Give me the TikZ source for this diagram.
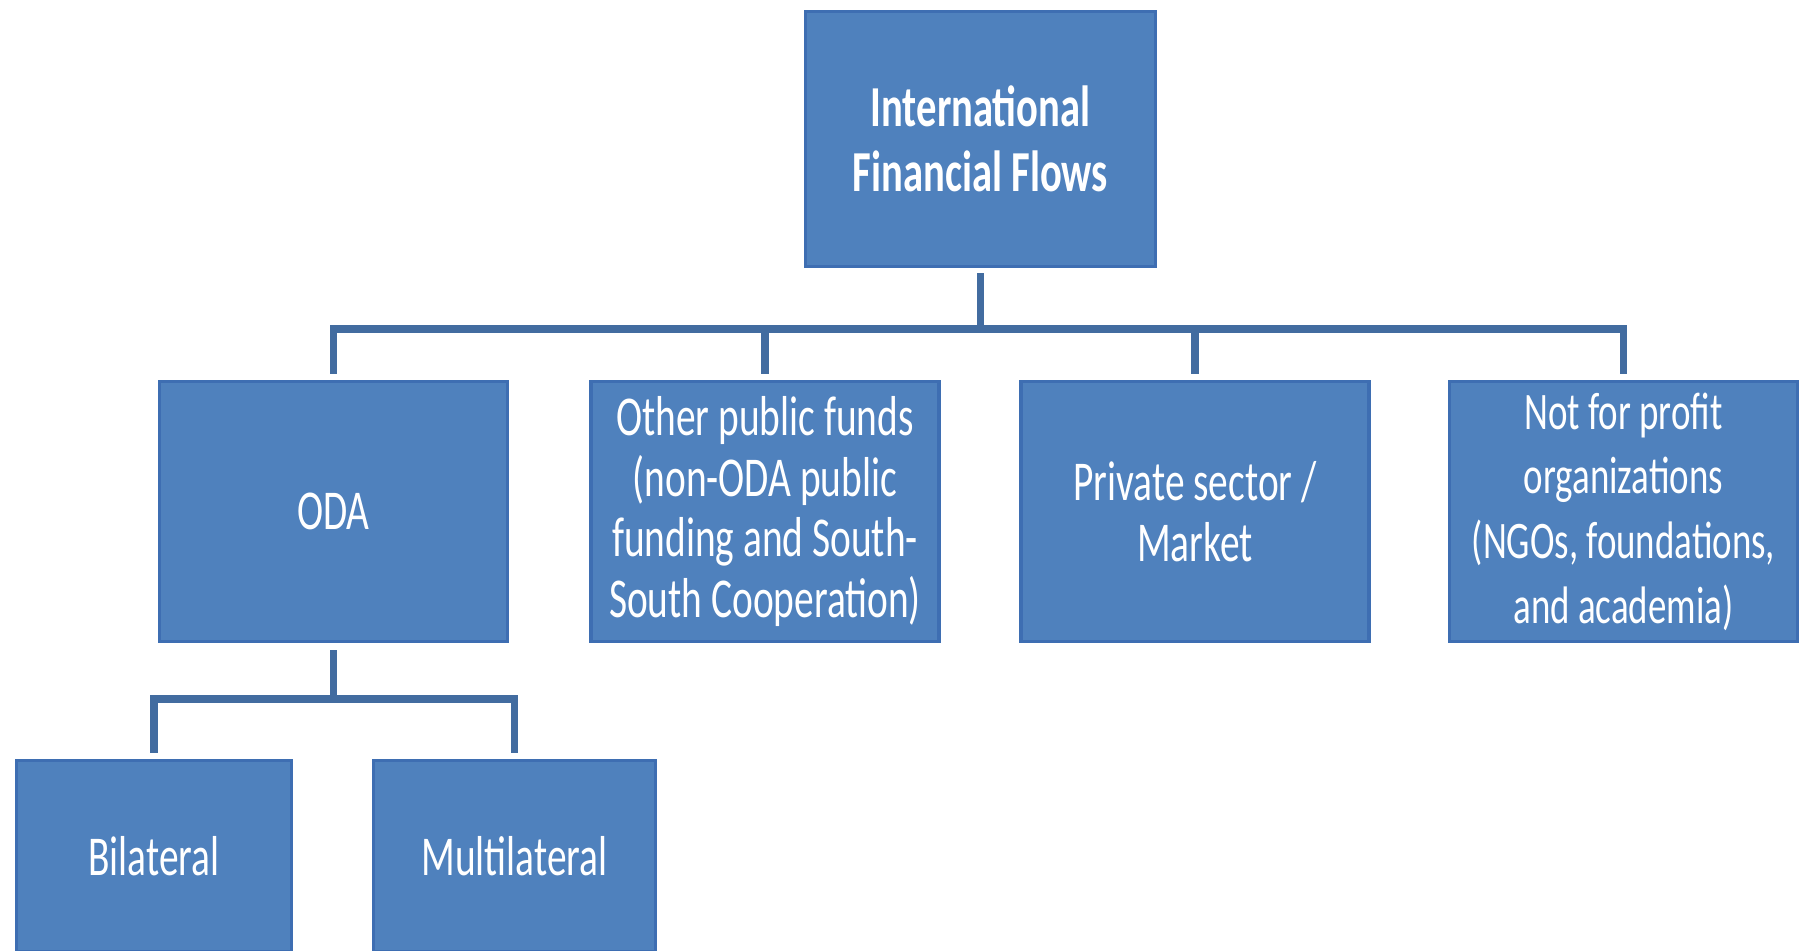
\documentclass[tikz,border=0pt]{standalone}
\usepackage{fontspec}
\setmainfont{Carlito}[FakeStretch=0.70]
\definecolor{boxfill}{RGB}{79,129,189}
\definecolor{boxborder}{RGB}{62,110,178}
\definecolor{connc}{RGB}{66,108,160}
\begin{document}
\begin{tikzpicture}[x=0.01cm,y=-0.01cm,
  box/.style={draw=boxborder, fill=boxfill, line width=1.1pt, text=white, align=center, inner sep=0pt,
    font=\fontsize{16}{17.2}\selectfont},
  conn/.style={draw=connc, line width=2.1pt, line join=miter, line cap=rect}]
\useasboundingbox (0,0) rectangle (1799,950);
\node[box, minimum width=350*0.01cm, minimum height=255*0.01cm, font=\fontsize{16.5}{18.6}\selectfont\bfseries] (top) at (980.5,139) {International\\Financial Flows};
\node[box, minimum width=348*0.01cm, minimum height=260*0.01cm] (oda) at (333.5,511.5) {ODA};
\node[box, minimum width=348*0.01cm, minimum height=260*0.01cm] (opf) at (765,511.5) {Other public funds\\(non-ODA public\\funding and South-\\South Cooperation)};
\node[box, minimum width=348*0.01cm, minimum height=260*0.01cm] (priv) at (1195,511.5) {Private sector /\\Market};
\node[box, minimum width=348*0.01cm, minimum height=260*0.01cm, font=\fontsize{15}{18.4}\selectfont] (nfp) at (1623.5,511.5) {Not for profit\\organizations\\(NGOs, foundations,\\and academia)};
\node[box, minimum width=275*0.01cm, minimum height=191*0.01cm] (bil) at (154,856) {Bilateral};
\node[box, minimum width=282*0.01cm, minimum height=191*0.01cm] (mul) at (514.5,856) {Multilateral};
\coordinate (j1) at (980.5,329);
\coordinate (j2) at (333.5,699);
\draw[conn] ([yshift=-0.08cm]top.south) -- (j1);
\draw[conn] (j1) -| ([yshift=0.09cm]oda.north);
\draw[conn] (j1) -| ([yshift=0.09cm]opf.north);
\draw[conn] (j1) -| ([yshift=0.09cm]priv.north);
\draw[conn] (j1) -| ([yshift=0.09cm]nfp.north);
\draw[conn] ([yshift=-0.1cm]oda.south) -- (j2);
\draw[conn] (j2) -| ([yshift=0.09cm]bil.north);
\draw[conn] (j2) -| ([yshift=0.09cm]mul.north);
\end{tikzpicture}
\end{document}
